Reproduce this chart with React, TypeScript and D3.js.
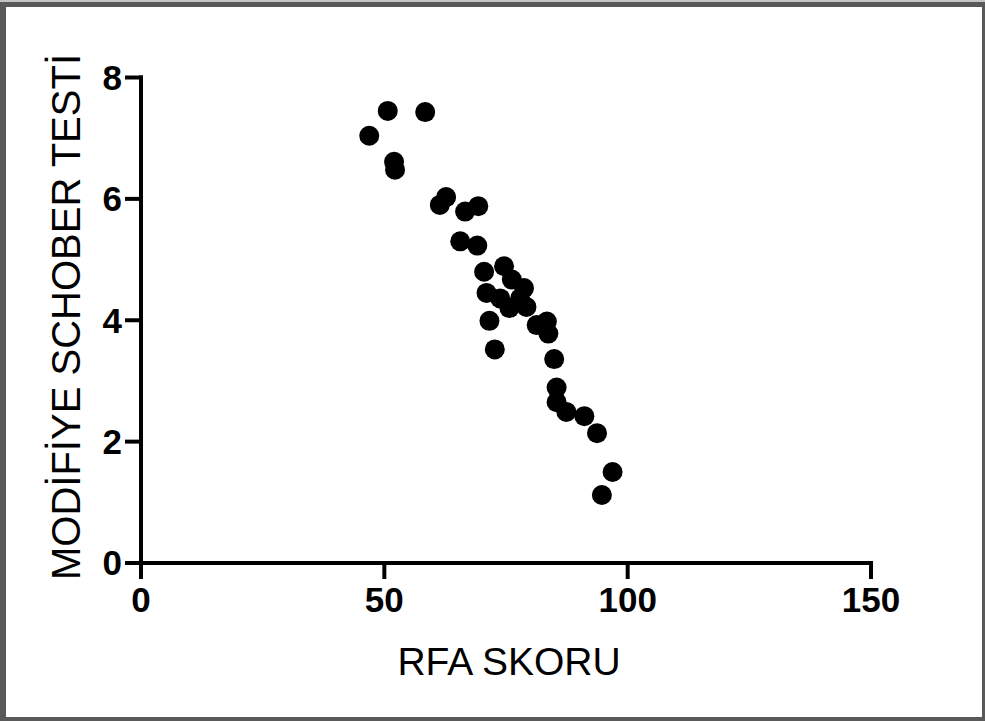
import { FC } from 'react';
import * as d3 from 'd3';

// RFA SKORU (x) vs MODİFİYE SCHOBER TESTİ (y)
const rfaScores = [
  46.9, 50.7, 58.4, 52.0, 52.2, 61.4, 62.7, 66.6, 69.3, 65.6, 69.1,
  70.5, 74.6, 76.2, 78.7, 71.0, 73.8, 75.7, 77.9, 79.2, 71.6, 81.3,
  83.4, 83.7, 72.7, 84.9, 85.4, 85.4, 87.4, 91.1, 93.7, 96.9, 94.7,
];
const schoberValues = [
  7.04, 7.45, 7.43, 6.61, 6.48, 5.90, 6.03, 5.79, 5.88, 5.30, 5.23,
  4.80, 4.89, 4.67, 4.53, 4.45, 4.36, 4.20, 4.36, 4.22, 3.99, 3.92,
  3.98, 3.78, 3.52, 3.36, 2.89, 2.65, 2.49, 2.42, 2.14, 1.50, 1.12,
];
const xTicks = [0, 50, 100, 150];
const yTicks = [0, 2, 4, 6, 8];

const W = 985;
const H = 721;
const font = '"Liberation Sans", Arial, sans-serif';

const App: FC = () => {
  const x = d3.scaleLinear().domain([0, 150]).range([141, 871]);
  const y = d3.scaleLinear().domain([0, 8]).range([563, 77.5]);
  const points = rfaScores.map((v, i) => ({ x: v, y: schoberValues[i] }));

  return (
    <svg
      width={W}
      height={H}
      style={{ position: 'absolute', left: 0, top: 0 }}
    >
      {/* frame */}
      <rect x={0} y={0} width={W} height={H} fill="#595959" />
      <rect x={0} y={0} width={W} height={2} fill="#c4c4c4" />
      <rect x={6} y={7} width={976} height={710} fill="#fff" />

      {/* axes */}
      <g stroke="#000" strokeWidth={4} strokeLinecap="square">
        <line x1={x(0)} x2={x(150)} y1={y(0)} y2={y(0)} />
        <line x1={x(0)} x2={x(0)} y1={y(0)} y2={y(8)} />
        {xTicks.map(t => (
          <line key={`xt${t}`} x1={x(t)} x2={x(t)} y1={y(0)} y2={y(0) + 14} />
        ))}
        {yTicks.map(t => (
          <line key={`yt${t}`} x1={x(0) - 14} x2={x(0)} y1={y(t)} y2={y(t)} />
        ))}
      </g>

      {/* tick labels */}
      <g fontFamily={font} fontWeight="bold" fontSize={35} fill="#000">
        {xTicks.map(t => (
          <text key={`xl${t}`} x={x(t)} y={612} textAnchor="middle">
            {t}
          </text>
        ))}
        {yTicks.map(t => (
          <text
            key={`yl${t}`}
            x={122}
            y={y(t)}
            dy="0.35em"
            textAnchor="end"
          >
            {t}
          </text>
        ))}
      </g>

      {/* axis titles */}
      <text
        x={509}
        y={675}
        textAnchor="middle"
        fontFamily={font}
        fontSize={39}
        fill="#000"
      >
        RFA SKORU
      </text>
      <text
        transform="translate(80,317) rotate(-90)"
        textAnchor="middle"
        fontFamily={font}
        fontSize={40}
        fill="#000"
      >
        MODİFİYE SCHOBER TESTİ
      </text>

      {/* points */}
      {points.map((d, i) => (
        <circle key={i} cx={x(d.x)} cy={y(d.y)} r={10} fill="#000" />
      ))}
    </svg>
  );
};

export default App;
